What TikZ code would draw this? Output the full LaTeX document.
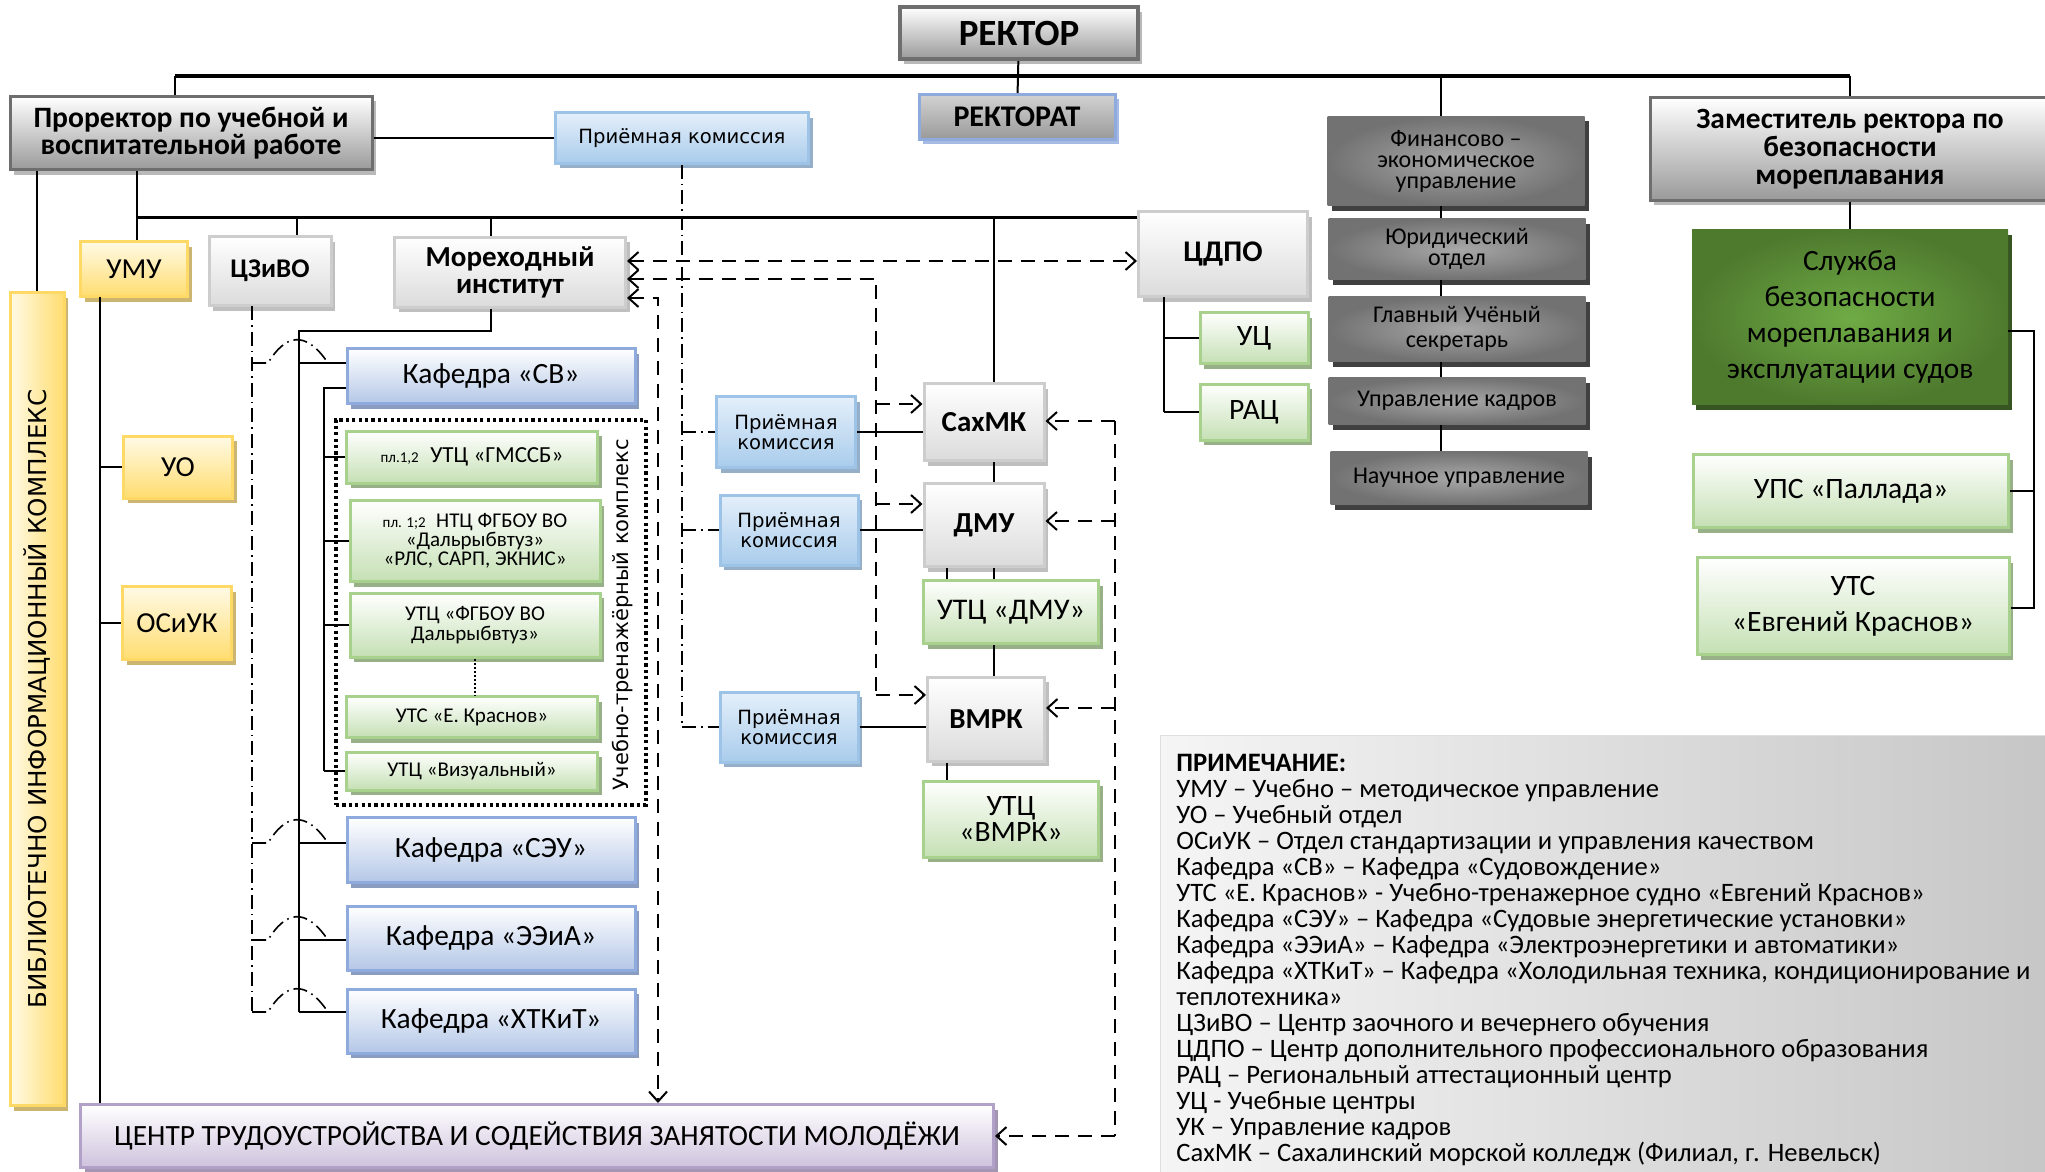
\documentclass[tikz,border=0pt]{standalone}
\usepackage{fontspec}
\setmainfont{Carlito}
\newfontfamily\dejavu{DejaVu Sans}
\usetikzlibrary{shadows,arrows.meta,positioning}
\definecolor{boxgray}{HTML}{9A9A9A}
\definecolor{rimgray}{HTML}{6E6E6E}
\definecolor{lightrim}{HTML}{CDCDCD}
\definecolor{darkin}{HTML}{A8A8A8}
\definecolor{darkout}{HTML}{727272}
\definecolor{blueend}{HTML}{B4C7E7}
\definecolor{bluerim}{HTML}{8FAADC}
\definecolor{pktop}{HTML}{E4EFFA}
\definecolor{pkend}{HTML}{A9CCEC}
\definecolor{pkrim}{HTML}{9DC3E6}
\definecolor{greenend}{HTML}{C5E0B4}
\definecolor{greenrim}{HTML}{A9D18E}
\definecolor{yelltop}{HTML}{FFFAE6}
\definecolor{yellend}{HTML}{FFDD70}
\definecolor{yellrim}{HTML}{FFD966}
\definecolor{servin}{HTML}{6FAB45}
\definecolor{servout}{HTML}{4E7A2E}
\definecolor{purpend}{HTML}{CEC2DD}
\definecolor{purprim}{HTML}{B1A0C7}

\begin{document}
\begin{tikzpicture}
  [x=0.5pt,y=-0.5pt,>={Straight Barb[length=5pt,width=9pt]},
   every node/.style={inner sep=1pt,align=center},
   sz/.style 2 args={minimum width=#1*0.5pt,minimum height=#2*0.5pt},
   sh/.style={drop shadow={shadow xshift=2pt,shadow yshift=-2.5pt,fill=#1,opacity=1}},
   graybox/.style={top color=white,bottom color=boxgray,draw=rimgray,line width=1.5pt,sh=gray!55},
   rektbox/.style={top color=gray!35,bottom color=gray!80,draw=bluerim,line width=1.5pt,sh=bluerim!80},
   lightbox/.style={top color=white,bottom color=black!14,draw=lightrim,line width=1.5pt,sh=gray!50,
     font=\fontsize{14.5}{15}\selectfont\bfseries},
   darkbox/.style={inner color=darkin,outer color=darkout,sh=black!75,font=\fontsize{12}{10.5}\selectfont},
   bluebox/.style={top color=white,bottom color=blueend,draw=bluerim,line width=1.5pt,sh=bluerim!70!gray,
     font=\fontsize{14.7}{16}\selectfont},
   pkbox/.style={top color=pktop,bottom color=pkend,draw=pkrim,line width=1.5pt,sh=pkrim!70!gray,
     font=\dejavu\fontsize{9.8}{10}\selectfont},
   greenbox/.style={top color=white,bottom color=greenend,draw=greenrim,line width=1.5pt,sh=greenrim!60!gray,
     font=\fontsize{14.8}{16}\selectfont},
   yellbox/.style={top color=yelltop,bottom color=yellend,draw=yellrim,line width=1.5pt,sh=yellrim!60!gray,
     font=\fontsize{14.5}{15}\selectfont},
   servbox/.style={inner color=servin,outer color=servout,sh=servout!70!black,font=\fontsize{14.7}{18}\selectfont},
   purpbox/.style={top color=white,bottom color=purpend,draw=purprim,line width=1.5pt,sh=purprim!70!gray},
   con/.style={line width=1pt},
   dashline/.style={line width=1pt,dash pattern=on 7pt off 4.5pt},
   dashdotline/.style={line width=0.8pt,dash pattern=on 7pt off 2.5pt on 0.8pt off 2.5pt}]
  \useasboundingbox (0,0) rectangle (2045,1172);
  \clip (0,0) rectangle (2045,1172);
  \fill[white] (0,0) rectangle (2045,1172);

  \node[graybox,line width=2pt,sz={238}{52},font=\fontsize{18.5}{20}\selectfont\bfseries] (rector) at (1019,33) {РЕКТОР};
  \node[rektbox,sz={196}{45},font=\fontsize{15}{16}\selectfont\bfseries] (rektorat) at (1017,117) {РЕКТОРАТ};
  \node[graybox,sz={362}{73},font=\fontsize{14.8}{13.5}\selectfont\bfseries] (prorector) at (191,133) {Проректор по учебной и\\воспитательной работе};
  \node[pkbox,sz={253}{50}] (priem) at (682,138) {Приёмная комиссия};
  \node[darkbox,sz={257}{89}] (fin) at (1456,161) {Финансово –\\экономическое\\управление};
  \node[darkbox,sz={257}{61}] (yur) at (1457,249) {Юридический\\отдел};
  \node[darkbox,sz={257}{65},font=\fontsize{12}{12.5}\selectfont] (secr) at (1457,329) {Главный Учёный\\секретарь};
  \node[darkbox,sz={257}{47}] (kadr) at (1457,401) {Управление кадров};
  \node[darkbox,sz={257}{53}] (nauch) at (1459,478) {Научное управление};
  \node[graybox,sz={400}{102},font=\fontsize{14.7}{14}\selectfont\bfseries] (zam) at (1850,149) {Заместитель ректора по\\безопасности\\мореплавания};
  \node[servbox,sz={316}{175}] (sluzhba) at (1850,317) {Служба\\безопасности\\мореплавания и\\эксплуатации судов};
  \node[greenbox,sz={315}{73}] (pallada) at (1851,491) {УПС «Паллада»};
  \node[greenbox,sz={312}{97},font=\fontsize{14.8}{18}\selectfont] (krasnov) at (1853,606) {УТС\\«Евгений Краснов»};
  \node[lightbox,sz={169}{85},font=\fontsize{15}{16}\selectfont\bfseries] (cdpo) at (1223,254) {ЦДПО};
  \node[greenbox,sz={108}{51}] (uc) at (1254,338) {УЦ};
  \node[greenbox,sz={108}{56}] (rac) at (1254,412) {РАЦ};

  \node[yellbox,sz={107}{55}] (umu) at (134,269) {УМУ};
  \node[lightbox,sz={122}{69},font=\fontsize{13.5}{15}\selectfont\bfseries] (czivo) at (270,271) {ЦЗиВО};
  \node[lightbox,sz={231}{70},font=\fontsize{14.5}{13.5}\selectfont\bfseries] (mor) at (510,272) {Мореходный\\институт};
  \node[yellbox,sz={109}{62}] (uo) at (178,467) {УО};
  \node[yellbox,sz={109}{73}] (osiuk) at (177,623) {ОСиУК};
  \node[left color=yelltop,right color=yellend,draw=yellrim,line width=1.5pt,sh=yellrim!60!gray,sz={54}{813}] (bik) at (37,699) {};
  \node[rotate=90,font=\dejavu\fontsize{12.3}{14}\selectfont] (biklabel) at (bik) {БИБЛИОТЕЧНО ИНФОРМАЦИОННЫЙ КОМПЛЕКС};

  \node[draw,line width=2pt,dash pattern=on 1.6pt off 1.6pt,sz={310}{385}] (utk) at (491,612) {};
  \node[rotate=90,font=\dejavu\fontsize{10.5}{12}\selectfont] (utklabel) at (623,615) {Учебно-тренажёрный комплекс};
  \node[bluebox,sz={288}{55}] (ksv) at (491,376) {Кафедра «СВ»};
  \node[greenbox,sz={251}{52},font=\fontsize{11.5}{12}\selectfont] (gmssb) at (472,457) {{\fontsize{7.5}{8}\selectfont пл.1,2}\enspace УТЦ «ГМССБ»};
  \node[greenbox,sz={250}{81},font=\fontsize{10.5}{9.5}\selectfont] (ntc) at (475,541) {{\fontsize{7.5}{8}\selectfont пл. 1;2}\enspace НТЦ ФГБОУ ВО\\«Дальрыбвтуз»\\«РЛС, САРП, ЭКНИС»};
  \node[greenbox,sz={250}{64},font=\fontsize{10.5}{10}\selectfont] (fgbou) at (475,625) {УТЦ «ФГБОУ ВО\\Дальрыбвтуз»};
  \node[greenbox,sz={251}{41},font=\fontsize{10.5}{11}\selectfont] (utsk) at (472,717) {УТС «Е. Краснов»};
  \node[greenbox,sz={251}{38},font=\fontsize{10.5}{11}\selectfont] (vizual) at (472,771) {УТЦ «Визуальный»};
  \node[bluebox,sz={288}{65}] (kseu) at (491,850) {Кафедра «СЭУ»};
  \node[bluebox,sz={288}{64}] (keeia) at (491,938) {Кафедра «ЭЭиА»};
  \node[bluebox,sz={288}{64}] (khtkit) at (491,1021) {Кафедра «ХТКиТ»};

  \node[pkbox,sz={139}{71}] (pk1) at (786,432) {Приёмная\\комиссия};
  \node[pkbox,sz={138}{70}] (pk2) at (789,530) {Приёмная\\комиссия};
  \node[pkbox,sz={138}{70}] (pk3) at (789,727) {Приёмная\\комиссия};
  \node[lightbox,sz={120}{77}] (sahmk) at (984,422) {СахМК};
  \node[lightbox,sz={120}{83}] (dmu) at (984,525) {ДМУ};
  \node[greenbox,sz={175}{63},font=\fontsize{15}{16}\selectfont] (utcdmu) at (1011,612) {УТЦ «ДМУ»};
  \node[lightbox,sz={117}{84}] (vmrk) at (986,719) {ВМРК};
  \node[greenbox,sz={175}{76},font=\fontsize{14.8}{11.5}\selectfont] (utcvmrk) at (1011,819) {УТЦ\\«ВМРК»};
  \node[purpbox,sz={913}{63},font=\fontsize{14.7}{16}\selectfont] (czentr) at (537,1136) {ЦЕНТР ТРУДОУСТРОЙСТВА И СОДЕЙСТВИЯ ЗАНЯТОСТИ МОЛОДЁЖИ};

  \node[left color=gray!8,right color=gray!45,draw=gray!25,sz={900}{460},anchor=north west] (note) at (1160,735) {};
  \node[anchor=north west,align=left,inner sep=0pt,font=\fontsize{13.3}{13}\selectfont] (notetext) at (1176,754)
    {\textbf{ПРИМЕЧАНИЕ:}\\
     УМУ – Учебно – методическое управление\\
     УО – Учебный отдел\\
     ОСиУК – Отдел стандартизации и управления качеством\\
     Кафедра «СВ» – Кафедра «Судовождение»\\
     УТС «Е. Краснов» - Учебно-тренажерное судно «Евгений Краснов»\\
     Кафедра «СЭУ» – Кафедра «Судовые энергетические установки»\\
     Кафедра «ЭЭиА» – Кафедра «Электроэнергетики и автоматики»\\
     Кафедра «ХТКиТ» – Кафедра «Холодильная техника, кондиционирование и\\
     теплотехника»\\
     ЦЗиВО – Центр заочного и вечернего обучения\\
     ЦДПО – Центр дополнительного профессионального образования\\
     РАЦ – Региональный аттестационный центр\\
     УЦ - Учебные центры\\
     УК – Управление кадров\\
     СахМК – Сахалинский морской колледж (Филиал, г. Невельск)};

  \coordinate (busl) at (175,76);
  \coordinate (busr) at (1850,76);
  \coordinate (busf) at (1441,76);
  \draw[line width=2pt] (busl) -- (busr);
  \draw[con] (rector) -- (rektorat);
  \draw[con] (busl) -- (busl |- prorector.north);
  \draw[con] (busr) -- (zam.north);
  \draw[con] (busf) -- (busf |- fin.north);
\foreach \a/\b in {fin/yur,yur/secr,secr/kadr,kadr/nauch}
    \draw[con] (busf |- \a.south) -- (busf |- \b.north);
  \draw[con] (zam) -- (sluzhba);
  \coordinate (brk1) at (2034,331);
  \coordinate (brk2) at (2034,608);
  \draw[con] (sluzhba.east |- brk1) -- (brk1) -- (brk2) -- (krasnov.east |- brk2);
  \draw[con] (pallada.east) -- (pallada.east -| brk1);

  \draw[con] (prorector.east |- priem) -- (priem.west);
  \draw[con] (prorector.south -| bik.north) -- (bik.north);
  \coordinate (midl) at (137,217);
  \coordinate (czj) at (297,217);
  \coordinate (morj) at (491,217);
  \coordinate (sahj) at (994,217);
  \coordinate (sahj2) at (947,217);
  \draw[con] (prorector.south -| midl) -- (midl |- umu.north);
  \draw[line width=1.5pt] (midl) -- (midl -| cdpo.west);
  \draw[con] (czj) -- (czj |- czivo.north);
  \draw[con] (morj) -- (morj |- mor.north);
  \draw[con] (sahj) -- (sahj |- sahmk.north);
\foreach \a/\b in {sahmk/dmu,dmu/utcdmu,utcdmu/vmrk}
    \draw[con] (sahj |- \a.south) -- (sahj |- \b.north);
\foreach \a/\b in {dmu/utcdmu,vmrk/utcvmrk}
    \draw[con] (sahj2 |- \a.south) -- (sahj2 |- \b.north);

  \coordinate (umuv) at (100,297);
  \draw[con] (umuv) -- (umuv |- czentr.north);
\foreach \n in {uo,osiuk}
    \draw[con] (umuv |- \n) -- (\n.west);
  \coordinate (cdpov) at (1164,297);
  \draw[con] (cdpov) -- (cdpov |- rac);
\foreach \n in {uc,rac}
    \draw[con] (cdpov |- \n) -- (\n.west);

  \coordinate (morv) at (299,331);
  \draw[con] (morj |- mor.south) -- (morj |- morv) -- (morv) -- (morv |- 0,1012);
\foreach \n/\y in {ksv/363,kseu/843,keeia/940,khtkit/1012}
    \draw[con] (morv |- 0,\y) -- (\n.west |- 0,\y);
  \coordinate (utkv) at (324,388);
  \draw[con] (ksv.west |- utkv) -- (utkv) -- (utkv |- vizual);
\foreach \n in {gmssb,ntc,fgbou,vizual}
    \draw[con] (utkv |- \n) -- (\n.west);
  \draw[con,densely dotted] (fgbou.south) -- (fgbou.south |- utsk.north);

  \draw[dashdotline] (priem.south) -- (priem.south |- pk3);
\foreach \n in {pk1,pk2,pk3}
    \draw[dashdotline] (priem.south |- \n) -- (\n.west);
\foreach \n/\m in {pk1/sahmk,pk2/dmu,pk3/vmrk}
    \draw[con] (\n.east) -- (\n.east -| \m.west);
  \coordinate (czv) at (252,306);
  \draw[dashdotline] (czv) -- (czv |- 0,1012);
\foreach \n/\y in {ksv/363,kseu/843,keeia/940,khtkit/1012}
    \draw[dashdotline] (czv |- 0,\y) -- (268,\y) .. controls (285,\y-28) and (305,\y-34) .. (328,\y) -- (\n.west |- 0,\y);

  \draw[dashline,<->] (mor.east |- 0,261) -- (cdpo.west |- 0,261);
  \coordinate (dashv) at (876,279);
  \draw[dashline,<-] (mor.east |- dashv) -- (dashv) -- (dashv |- 0,695);
\foreach \n/\y in {sahmk/404,dmu/504,vmrk/695}
    \draw[dashline,->] (dashv |- 0,\y) -- (\n.west |- 0,\y);
  \coordinate (dashc) at (658,298);
  \draw[dashline,<->] (mor.east |- dashc) -- (dashc) -- (dashc |- czentr.north);
  \coordinate (dashr) at (1115,421);
  \draw[dashline] (dashr) -- (dashr |- czentr);
\foreach \n/\y in {sahmk/421,dmu/521,vmrk/708}
    \draw[dashline,->] (dashr |- 0,\y) -- (\n.east |- 0,\y);
  \draw[dashline,->] (dashr |- czentr) -- (czentr.east);
\end{tikzpicture}
\end{document}
